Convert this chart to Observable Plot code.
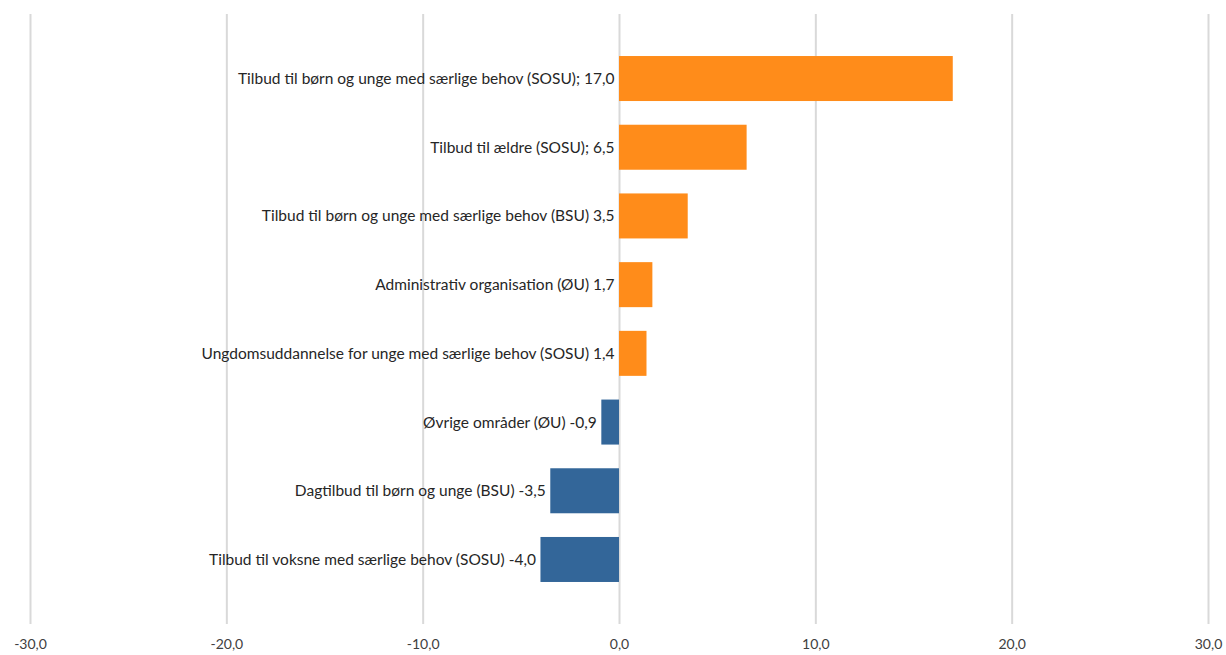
<!DOCTYPE html>
<html>
<head>
<meta charset="utf-8">
<script src="https://cdn.jsdelivr.net/npm/d3@7"></script>
<script src="https://cdn.jsdelivr.net/npm/@observablehq/plot@0.6"></script>
<style>
  body { margin: 0; background: #fff; }
</style>
</head>
<body>
<div id="chart"></div>
<script>
const labels = [
  "Tilbud til børn og unge med særlige behov (SOSU); 17,0",
  "Tilbud til ældre (SOSU); 6,5",
  "Tilbud til børn og unge med særlige behov (BSU) 3,5",
  "Administrativ organisation (ØU) 1,7",
  "Ungdomsuddannelse for unge med særlige behov (SOSU) 1,4",
  "Øvrige områder (ØU) -0,9",
  "Dagtilbud til børn og unge (BSU) -3,5",
  "Tilbud til voksne med særlige behov (SOSU) -4,0"
];
const values = [17.0, 6.5, 3.5, 1.7, 1.4, -0.9, -3.5, -4.0];
const xTicks = [-30, -20, -10, 0, 10, 20, 30];

const data = labels.map((l, i) => ({label: l, value: values[i]}));
const fmt = d => d.toFixed(1).replace(".", ",");

const chart = Plot.plot({
  width: 1226,
  height: 655,
  marginTop: 14,
  marginBottom: 31,
  marginLeft: 30,
  marginRight: 18,
  style: {fontFamily: "Lato, 'Open Sans', sans-serif", background: "#fff"},
  x: {domain: [-30, 30], ticks: xTicks, tickFormat: fmt, label: null},
  y: {domain: labels, paddingInner: 0.345, paddingOuter: 0.175, round: false, insetTop: 30, insetBottom: 30, axis: null},
  marks: [
    Plot.ruleX(xTicks, {stroke: "#d9d9d9", strokeWidth: 2}),
    Plot.barX(data, {
      x: "value", y: "label",
      fill: d => d.value >= 0 ? "#FF8C1A" : "#336699"
    }),
    Plot.text(data, {
      x: d => Math.min(0, d.value), y: "label", text: "label",
      textAnchor: "end", dx: -5,
      fontSize: 15.5, fill: "#262626"
    }),
    Plot.axisX({ticks: xTicks, tickFormat: fmt, tickSize: 0, tickPadding: 15, fontSize: 14, color: "#404040", label: null})
  ]
});
document.getElementById("chart").appendChild(chart);
</script>
</body>
</html>
